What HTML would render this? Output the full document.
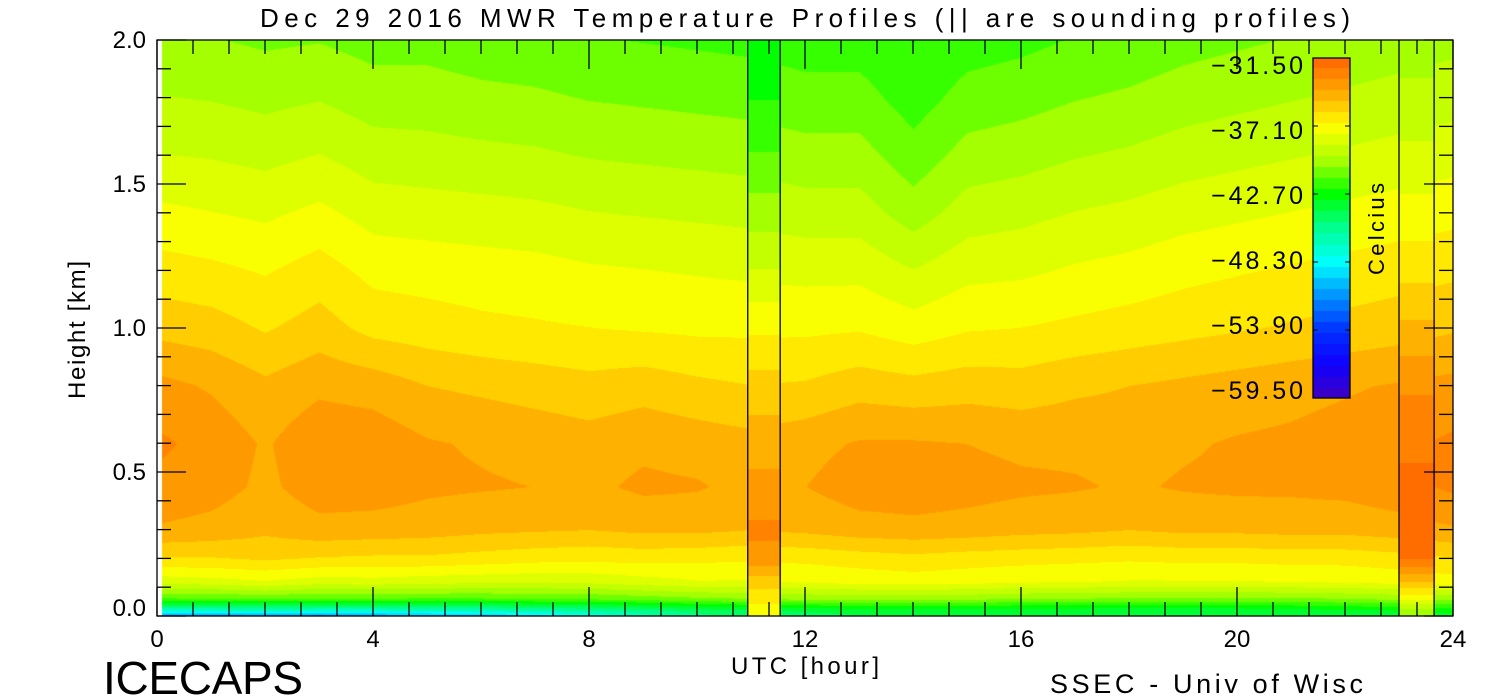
<!DOCTYPE html>
<html><head><meta charset="utf-8"><style>
body{margin:0;width:1500px;height:700px;background:#fff;overflow:hidden;position:relative;font-family:"Liberation Sans",sans-serif}
canvas{position:absolute;left:0;top:0}
svg{position:absolute;left:0;top:0}
svg text{font-family:"Liberation Sans",sans-serif;fill:#000}
</style></head><body>
<canvas id="cv" width="1500" height="700"></canvas>
<svg id="sv" width="1500" height="700"></svg>
<script>
// ---- data ----
const hours=[0,1,2,3,4,5,6,7,8,9,10,11,12,13,14,15,16,17,18,19,20,21,22,23,24];
const heights=[-0.03,0.02,0.06,0.12,0.2,0.3,0.45,0.6,0.8,1.0,1.2,1.4,1.6,1.8,2.0];
const tH003=[-58,-58,-57.5,-57.5,-57,-56.5,-56,-54,-51,-48,-46.5,-45.5,-45,-44.8,-44.6,-44.6,-44.6,-44.6,-44.6,-44.6,-44.5,-44.4,-44.2,-44,-43.8];
const tH002=[-47.0,-47.0,-46.8,-47.0,-47.0,-46.8,-46.5,-46.2,-45.8,-45.3,-44.6,-44.2,-44.0,-43.8,-43.6,-43.7,-43.8,-43.8,-43.9,-43.9,-43.8,-43.6,-43.4,-43.2,-43.0];
const tH006=[-41.5,-41.5,-41.3,-41.5,-41.5,-41.5,-41.5,-41.3,-41.3,-41.0,-40.7,-40.5,-40.3,-40.2,-40.2,-40.3,-40.5,-40.5,-40.7,-40.7,-40.7,-40.7,-40.5,-40.3,-40.2];
const tH012=[-38.3,-38.1,-37.8,-38.2,-38.1,-38.3,-38.4,-38.5,-38.4,-38.1,-37.8,-37.8,-37.6,-37.4,-37.3,-37.4,-37.6,-37.7,-37.8,-37.8,-37.8,-37.7,-37.6,-37.4,-37.2];
const tH020=[-36.0,-36.0,-35.8,-36.0,-36.1,-36.1,-36.3,-36.5,-36.6,-36.5,-36.6,-36.7,-36.6,-36.4,-36.2,-36.4,-36.5,-36.6,-36.7,-36.6,-36.6,-36.5,-36.5,-36.3,-36.0];
const tH030=[-34.2,-34.4,-34.8,-34.4,-34.5,-34.6,-34.8,-34.9,-35.0,-34.8,-34.8,-35.0,-34.8,-34.5,-34.4,-34.5,-34.7,-34.8,-35.0,-34.8,-34.8,-34.7,-34.7,-34.5,-34.2];
const tH045=[-33.4,-33.7,-34.3,-33.6,-33.6,-33.9,-34.0,-34.1,-34.3,-33.9,-34.0,-34.4,-34.1,-33.6,-33.5,-33.7,-33.9,-34.0,-34.2,-34.0,-33.9,-33.9,-33.8,-33.5,-33.0];
const tH060=[-33.0,-33.5,-34.2,-33.4,-33.5,-34.0,-34.2,-34.4,-34.6,-34.3,-34.5,-34.7,-34.4,-34.0,-34.0,-34.1,-34.3,-34.3,-34.4,-34.2,-34.0,-33.9,-33.7,-33.4,-33.0];
const tH080=[-33.8,-34.2,-34.8,-34.3,-34.5,-35.0,-35.2,-35.4,-35.6,-35.4,-35.7,-35.9,-35.8,-35.4,-35.6,-35.4,-35.5,-35.2,-35.0,-34.8,-34.6,-34.4,-34.2,-34.0,-33.8];
const tH100=[-35.3,-35.5,-36.0,-35.5,-36.2,-36.4,-36.6,-36.7,-36.8,-36.9,-37.0,-37.0,-37.0,-36.9,-37.3,-36.9,-36.8,-36.6,-36.4,-36.2,-36.0,-35.8,-35.6,-35.4,-35.1];
const tH120=[-36.4,-36.6,-36.9,-36.4,-37.1,-37.2,-37.3,-37.4,-37.6,-37.7,-37.8,-37.9,-38.0,-38.0,-38.6,-38.0,-37.9,-37.6,-37.4,-37.1,-36.9,-36.7,-36.5,-36.3,-36.1];
const tH140=[-37.5,-37.7,-37.9,-37.5,-38.1,-38.2,-38.3,-38.4,-38.6,-38.7,-38.8,-38.9,-39.1,-39.1,-40.0,-39.1,-38.9,-38.6,-38.4,-38.1,-37.9,-37.7,-37.5,-37.3,-37.1];
const tH160=[-38.6,-38.7,-38.9,-38.6,-39.1,-39.2,-39.3,-39.4,-39.6,-39.7,-39.8,-39.9,-40.1,-40.1,-41.0,-40.1,-39.9,-39.6,-39.4,-39.1,-38.9,-38.7,-38.5,-38.3,-38.1];
const tH180=[-39.5,-39.6,-39.8,-39.6,-40.0,-40.0,-40.2,-40.3,-40.5,-40.6,-40.7,-40.8,-41.0,-41.0,-41.8,-41.0,-40.8,-40.5,-40.3,-40.0,-39.8,-39.6,-39.4,-39.2,-39.0];
const tH200=[-40.3,-40.4,-40.6,-40.5,-40.8,-40.8,-41.0,-41.1,-41.3,-41.4,-41.5,-41.6,-41.8,-41.8,-42.3,-41.8,-41.6,-41.3,-41.1,-40.8,-40.6,-40.4,-40.2,-40.0,-39.8];
const sounding1Times=[10.94,11.54];
const sounding1=[-37.8,-37.2,-36.5,-35.5,-33.5,-33.0,-33.8,-34.5,-35.5,-37.0,-38.6,-40.0,-41.3,-42.3,-42.8];
const sounding2Times=[23.0,23.65];
const sounding2=[-41,-40,-37.5,-35,-32.2,-31.6,-32.0,-32.5,-33.3,-34.8,-36.2,-37.4,-38.4,-39.3,-40.0];
const cbLabels=["-31.50","-37.10","-42.70","-48.30","-53.90","-59.50"];
const xTicks=[0,4,8,12,16,20,24];
const yTicks=["0.0","0.5","1.0","1.5","2.0"];
const grid=[tH003,tH002,tH006,tH012,tH020,tH030,tH045,tH060,tH080,tH100,tH120,tH140,tH160,tH180,tH200];
// ---- scales ----
const X0=157,X1=1453,Y0=616,PXKM=288;
const xs=h=>X0+(h/24)*(X1-X0);
const ys=k=>Y0-k*PXKM;
const stops=[[-31.5,[255,100,0]],[-34.3,[255,170,0]],[-37.1,[255,255,0]],[-39.9,[170,255,0]],[-42.7,[0,255,0]],[-45.5,[0,255,144]],[-48.3,[0,255,255]],[-51.1,[0,144,255]],[-53.9,[0,48,255]],[-56.7,[16,0,255]],[-59.5,[64,0,192]]];
function col(t){t=Math.round(t*1.1)/1.1;if(t>=-31.5)return stops[0][1];if(t<=-59.5)return stops[stops.length-1][1];
 for(let i=0;i<stops.length-1;i++){const a=stops[i],b=stops[i+1];if(t<=a[0]&&t>=b[0]){const f=(a[0]-t)/(a[0]-b[0]);return a[1].map((v,j)=>Math.round(v+(b[1][j]-v)*f));}}return[0,0,0];}
function hInterp(arr,k){if(k<=heights[0])return arr[0];for(let i=0;i<heights.length-1;i++){if(k<=heights[i+1]){const f=(k-heights[i])/(heights[i+1]-heights[i]);return arr[i]+(arr[i+1]-arr[i])*f;}}return arr[arr.length-1];}
const cv=document.getElementById('cv'),ctx=cv.getContext('2d');
const img=ctx.createImageData(X1-X0,Y0-40);
const colProfiles=hours.map((_,j)=>grid.map(r=>r[j]));
for(let px=0;px<X1-X0;px++){
 const h=px/(X1-X0)*24;
 let prof;
 if(h>=sounding1Times[0]&&h<=sounding1Times[1])prof=sounding1;
 else if(h>=sounding2Times[0]&&h<=sounding2Times[1])prof=sounding2;
 else{const j=Math.min(23,Math.floor(h)),f=h-j;prof=colProfiles[j].map((v,i)=>v+(colProfiles[j+1][i]-v)*f);}
 for(let py=0;py<Y0-40;py++){
  const k=(Y0-(40+py))/PXKM;const c=col(hInterp(prof,k));const o=(py*(X1-X0)+px)*4;
  img.data[o]=c[0];img.data[o+1]=c[1];img.data[o+2]=c[2];img.data[o+3]=255;}
}
ctx.putImageData(img,X0,40);
ctx.fillStyle='#fff';ctx.fillRect(X0,40,5,Y0-40);
// colorbar
for(let y=58;y<398;y++){const t=-31.5-(y-58)/340*28;const c=col(t);ctx.fillStyle=`rgb(${c})`;ctx.fillRect(1313,y,37,1);}
// ---- svg ----
const sv=document.getElementById('sv');const NS='http://www.w3.org/2000/svg';
function el(tag,a,txt){const e=document.createElementNS(NS,tag);for(const k in a)e.setAttribute(k,a[k]);if(txt!==undefined)e.textContent=txt;sv.appendChild(e);return e;}
let e=el('rect',{x:X0,y:40,width:X1-X0,height:Y0-40,fill:'none',stroke:'#000','stroke-width':1.3});


[sounding1Times,sounding2Times].forEach(st=>st.forEach(t=>{const l=el('line',{x1:xs(t),x2:xs(t),y1:40,y2:Y0,stroke:'#000','stroke-width':1.3});

}));
for(let i=0;i<=36;i++){const x=X0+i*36;const len=i%6==0?29:14;
 el('line',{x1:x,x2:x,y1:Y0,y2:Y0-len,stroke:'#000','stroke-width':1.3});el('line',{x1:x,x2:x,y1:40,y2:40+len,stroke:'#000','stroke-width':1.3});}
for(let i=0;i<=20;i++){const y=ys(i*0.1);const len=i%5==0?29:14;
 el('line',{x1:X0,x2:X0+len,y1:y,y2:y,stroke:'#000','stroke-width':1.3});el('line',{x1:X1,x2:X1-len,y1:y,y2:y,stroke:'#000','stroke-width':1.3});}
xTicks.forEach(t=>{const tx=el('text',{x:xs(t),y:647,'font-size':24,'text-anchor':'middle'},String(t));

});
yTicks.forEach((t,i)=>{const tx=el('text',{x:146,y:ys(i*0.5)+(i==0?0:8),'font-size':24,'text-anchor':'end'},t);

});
e=el('text',{x:805,y:27,'font-size':26,'text-anchor':'middle','textLength':1090},'Dec 29 2016 MWR Temperature Profiles (|| are sounding profiles)');


e=el('text',{x:805,y:674,'font-size':24,'text-anchor':'middle','textLength':148},'UTC [hour]');


e=el('text',{x:0,y:0,'font-size':24,'text-anchor':'middle','textLength':138,transform:'translate(85,330) rotate(-90)'},'Height [km]');


e=el('text',{x:103,y:694,'font-size':46,'textLength':200},'ICECAPS');


e=el('text',{x:1050,y:693,'font-size':27,'textLength':313},'SSEC - Univ of Wisc');


e=el('rect',{x:1313,y:58,width:37,height:340,fill:'none',stroke:'#000','stroke-width':1.3});


cbLabels.forEach((t,i)=>{const y=58+i*68;const ly=65+i*65;
 el('line',{x1:1313,x2:1318,y1:y,y2:y,stroke:'#000'});el('line',{x1:1345,x2:1350,y1:y,y2:y,stroke:'#000'});
 const tx=el('text',{x:1303,y:ly+9,'font-size':25,'text-anchor':'end','textLength':92},t.replace('-','\u2212'));
 
 });
e=el('text',{x:0,y:0,'font-size':22,'text-anchor':'middle','textLength':92,transform:'translate(1384,229) rotate(-90)'},'Celcius');


</script>
</body></html>
